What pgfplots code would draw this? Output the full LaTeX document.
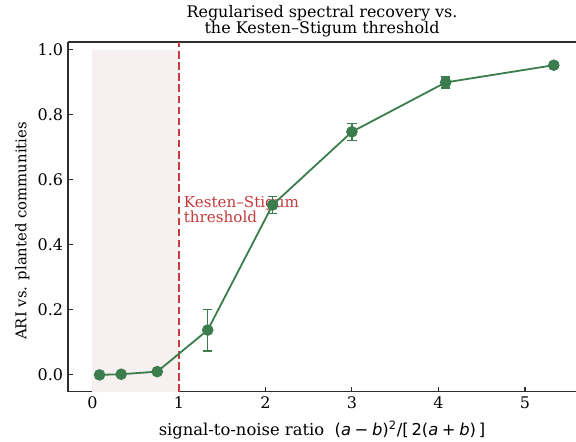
\documentclass[border=0pt]{standalone}
\usepackage{fontspec}
\setmainfont{DejaVu Serif}
\newfontfamily\mathsans{DejaVu Sans}
\usepackage{pgfplots}
\pgfplotsset{compat=1.18}
\usepackage{pgfplotstable}

\definecolor{ksgreen}{RGB}{59,125,76}
\definecolor{ksred}{RGB}{196,60,60}
\definecolor{kspink}{RGB}{247,240,240}
\definecolor{spine}{RGB}{45,45,45}

% SNR = (a-b)^2 / [2(a+b)] with a+b = 6, mean ARI and its spread
\pgfplotstableread{
snr      ari    err
0.0833   0.000  0.001
0.3333   0.002  0.001
0.7500   0.010  0.002
1.3333   0.138  0.064
2.0833   0.523  0.026
3.0000   0.748  0.026
4.0833   0.900  0.017
5.3333   0.953  0.008
}\ksdata

\begin{document}
\begin{tikzpicture}
\begin{axis}[
  scale only axis, width=365.8pt, height=252pt,
  xmin=-0.281, xmax=5.59, ymin=-0.0523, ymax=1.0246,
  axis y line*=left,
  axis line style={spine, line width=0.9pt},
  xtick={0,1,2,3,4,5}, ytick={0,0.2,0.4,0.6,0.8,1.0},
  xtick pos=left, ytick pos=left,
  tick align=inside, major tick length=3.5pt,
  tick style={spine, line width=0.8pt},
  /pgf/number format/assume math mode=true,
  yticklabel style={/pgf/number format/fixed, /pgf/number format/fixed zerofill, /pgf/number format/precision=1},
  ticklabel style={font=\fontsize{11.5}{13}\selectfont},
  title={Regularised spectral recovery vs.\\the Kesten–Stigum threshold},
  title style={at={(axis description cs:0.5,1.035)}, anchor=center, align=center, font=\fontsize{11.5}{11.8}\selectfont},
  xlabel={signal-to-noise ratio\ \ {\mathsans(\textit{a}\hspace{0.22em}−\hspace{0.22em}\textit{b})\textsuperscript{2}/[\hspace{0.17em}2(\textit{a}\hspace{0.22em}+\hspace{0.22em}\textit{b})\hspace{0.17em}]}},
  xlabel style={at={(axis description cs:0.5,-0.1087)}, anchor=center, font=\fontsize{11.8}{13}\selectfont},
  ylabel={ARI vs. planted communities},
  ylabel style={at={(axis description cs:-0.0902,0.46)}, anchor=center, rotate=0, font=\fontsize{10.7}{13}\selectfont},
  clip=true,
]
  % sub-threshold band
  \addplot[draw=none, fill=kspink] coordinates {(0,-0.0523) (0,1) (1,1) (1,-0.0523)} -- cycle;
  % Kesten-Stigum threshold at SNR = 1
  \addplot[ksred, line width=1.3pt, dash pattern=on 5.4pt off 2.6pt] coordinates {(1,-0.0523) (1,1.0246)};
  \node[ksred, font=\fontsize{10.9}{11}\selectfont, anchor=north west, align=left, inner sep=0pt]
    at (axis cs:1.055,0.55) {Kesten–Stigum\\threshold};
  % mean ARI with error bars
  \addplot[ksgreen, line width=1.3pt, mark=*, mark size=3.5pt, mark options={solid},
    error bars/.cd, y dir=both, y explicit,
    error bar style={line width=1pt},
    error mark options={rotate=90, line width=1pt, mark size=3.4pt}]
    table[x=snr, y=ari, y error=err] {\ksdata};
  \coordinate (sw) at (rel axis cs:0,0);
  \coordinate (ne) at (rel axis cs:1,1);
\end{axis}
\pgfresetboundingbox
\path ([shift={(-49pt,-36pt)}]sw) rectangle ([shift={(0pt,30.2pt)}]ne);
\end{tikzpicture}
\end{document}
